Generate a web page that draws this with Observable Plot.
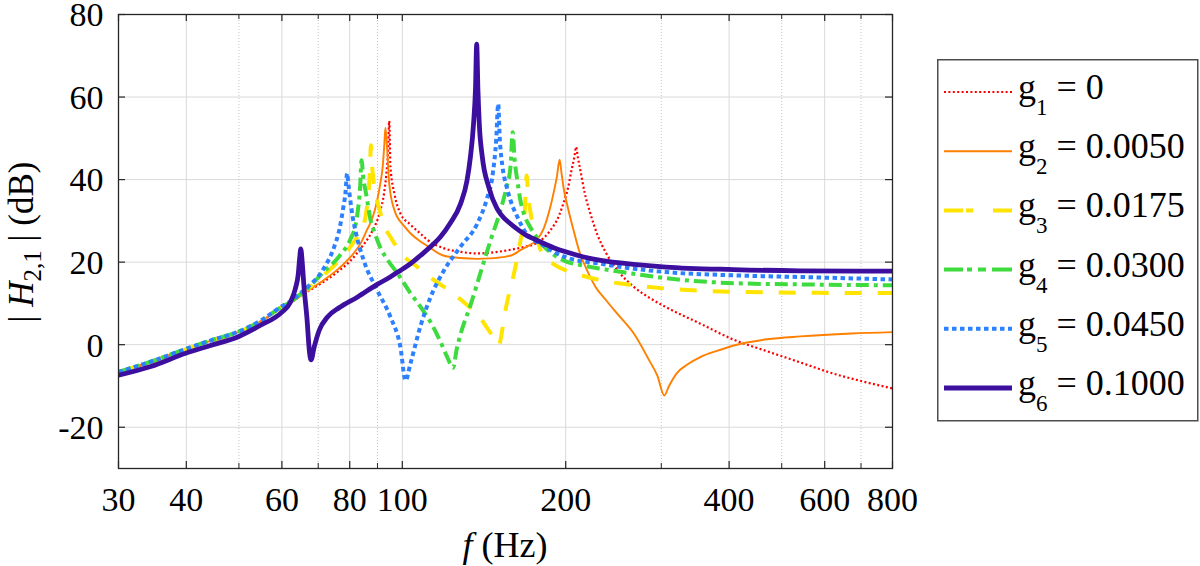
<!DOCTYPE html>
<html><head><meta charset="utf-8">
<script src="https://cdn.jsdelivr.net/npm/d3@7"></script>
<script src="https://cdn.jsdelivr.net/npm/@observablehq/plot@0.6"></script>
<style>
html,body{margin:0;padding:0;background:#fff;}
#wrap{position:relative;width:1200px;height:566px;overflow:hidden;font-family:'Liberation Serif',serif;}
#wrap svg, #wrap svg text{font-family:'Liberation Serif',serif !important;}
#legend{position:absolute;left:937px;top:59px;}
</style></head><body>
<div id="wrap"><div id="chart"></div><svg id="legend" width="262" height="363"></svg></div>
<script>
// ---- data: [frequency (Hz), |H2,1| (dB)] ----
const g1 = [[30,-6.7],[34.4,-4.2],[40,-1.1],[44.3,0.9],[50,3.1],[54.8,5.6],[60,9.0],[62.2,10.1],[64,11.2],[66.7,12.8],[71.6,15.2],[76.6,18.0],[80.2,20.3],[84,23.5],[88,27.5],[91.1,32.5],[92.5,36.5],[93.4,41],[94.1,46.5],[94.6,54.2],[95.1,43],[96.7,36.6],[99.2,31.8],[103.5,29.1],[108,26.9],[111,25.5],[119,23.4],[128,22.5],[137.4,22.1],[148,22.4],[158.2,23.0],[168,23.7],[176.7,24.6],[187.4,27.7],[194,31],[198,34.2],[202,38],[205,42.3],[207.5,45.5],[209,47.9],[210.5,45.5],[212.8,42.3],[217,36.5],[222,31.8],[229,26.5],[237.6,22.1],[250,17.8],[267,14.0],[285,11.4],[306,9.1],[354,5.1],[408,1.2],[470,-1.6],[541,-4.3],[622,-7.0],[700,-8.8],[800,-10.6]];
const g2 = [[30,-6.7],[34.4,-4.2],[40,-1.1],[44.3,0.9],[50,3.1],[54.8,5.6],[60,9.0],[62.2,10.1],[64,11.2],[66.7,12.9],[71.6,15.6],[76.6,18.6],[80.2,21.2],[84,24.8],[86,27.7],[88,30.5],[89.9,35],[91.2,39.5],[92,43],[92.6,48],[93.1,52.6],[93.8,47.1],[94.6,39.0],[96.7,32.6],[101,28.6],[103.5,27.0],[108,25.0],[111,24.0],[119,21.6],[128,21.0],[137.4,20.8],[145,20.9],[153,21.2],[160,21.8],[165,22.9],[170,23.8],[176.7,25.3],[182,28],[187.4,33.4],[190.5,37.5],[192.6,40.6],[194.9,44.8],[196.5,41.5],[198.1,38.2],[202,33],[206.8,27.7],[212,22.5],[219,18.0],[227,14],[237.6,10.7],[250,7.2],[267,2.7],[285,-3.8],[295,-7.5],[303.9,-12.3],[310,-10],[320,-7.0],[335,-4.8],[354,-3.0],[380,-1.5],[408,-0.2],[470,1.3],[541,2.0],[672,2.7],[800,3.05]];
const g3 = [[30,-6.7],[34.4,-4.2],[40,-1.1],[44.3,0.9],[50,3.1],[54.8,5.6],[60,9.1],[62.2,10.2],[64,11.4],[66.7,13.3],[71.6,16.8],[76.6,20.5],[80.2,23.7],[83,26.5],[84.9,29],[86,33],[86.8,38],[87.2,43],[87.5,48.3],[88,43],[88.5,39.8],[89.5,36],[90.5,33.4],[92.5,29],[95.1,26.1],[100,21.8],[105.5,19.3],[110,17.3],[117.5,14.6],[122.6,13.0],[131.6,9.6],[137.4,7.5],[142.9,4.3],[146.8,2.0],[150.5,-0.2],[153,4],[155,8.5],[160.3,16.8],[165,25],[168.2,32.6],[169.5,41],[170.5,36.5],[172,32.6],[176.7,26.1],[181,22.1],[190,19.5],[200,18.0],[215,16.7],[232,15.6],[260,14.6],[306,13.6],[408,12.8],[541,12.6],[800,12.5]];
const g4 = [[30,-6.6],[34.4,-4.1],[40,-1.0],[44.3,1.0],[50,3.2],[54.8,5.7],[60,9.2],[62.2,10.3],[64,11.6],[66.7,13.5],[71.6,17.6],[76.6,21.5],[80.2,25.5],[82,29],[82.9,33],[83.6,38],[84.1,44.7],[84.8,40],[85.5,37.5],[86.4,34],[87.3,30.5],[89,27],[91.1,23.5],[94,20.5],[98.3,17.0],[103.5,12.5],[108,9.2],[112.7,5.5],[117.5,0.8],[121,-3],[124,-5.6],[126,-1.0],[128,2.5],[133.5,9.5],[140.5,19],[146,26],[151.6,32.5],[155.5,38],[158.2,43],[159.7,51.5],[161,45],[163,39.5],[165,35],[167.4,31.8],[172,28.5],[176.7,26.1],[181,24.3],[190,21.8],[200,20.2],[215,19.2],[232,18.4],[260,17.4],[306,16.1],[408,14.9],[541,14.6],[800,14.4]];
const g5 = [[30,-6.6],[34.4,-4.1],[40,-1.0],[44.3,1.0],[50,3.2],[54.8,5.8],[60,9.3],[62.2,10.5],[64,11.8],[66.7,13.8],[71.6,18.4],[74.9,23.7],[76.6,28],[77.8,33],[78.6,37],[79.1,41.5],[79.6,38.5],[80.2,35.0],[81,31],[82,27.5],[84.9,20.4],[89.9,13.2],[95.1,6.7],[99.2,-0.6],[101.4,-8.7],[103.5,-4.6],[108,4.5],[112.7,11.5],[119.1,17.8],[127.9,23.7],[137.4,29.3],[142.9,35.0],[146.8,41.5],[148.9,49.5],[150.2,58.3],[151.2,50],[153,43],[155.5,38.5],[158.2,35],[163,30.9],[169.3,26.9],[175,25.3],[181,24.2],[190,22.5],[200,21.2],[232,19.6],[260,18.6],[306,17.6],[408,16.8],[541,16.4],[800,15.8]];
const g6 = [[30,-7.4],[34.4,-5.3],[40,-2.0],[44.3,-0.2],[50,2.0],[54.8,4.7],[60,7.9],[62.2,10.3],[63.5,13.5],[64.3,17],[64.7,21],[65.0,23.2],[65.4,20],[65.9,14],[66.7,6.7],[67.5,-2.2],[67.9,-3.7],[68.8,-0.6],[70.3,3.5],[72.8,6.7],[76.6,9.0],[82.6,11.5],[89.9,14.6],[95,16.4],[99.2,18.0],[103.5,19.6],[108,21.6],[112.7,23.7],[117.5,26.1],[122.6,29.5],[127.9,34.0],[131.6,39.8],[133.5,45.5],[135.3,53.6],[136.4,62],[137.1,72.8],[137.8,62],[138.6,53.6],[140.4,45.5],[144.3,38.2],[149.4,33.0],[152,31.5],[158.2,29.3],[164,27.7],[169.3,26.5],[175,25.6],[181,24.7],[190,23.5],[200,22.5],[215,21.3],[232,20.4],[270,19.4],[306,18.8],[408,18.2],[541,17.9],[800,17.8]];

const seriesSub = ["1","2","3","4","5","6"];
const seriesValue = ["0","0.0050","0.0175","0.0300","0.0450","0.1000"];
const xMajorTicks = [30,40,60,80,100,200,400,600,800];
const xMinorTicks = [50,70,90,300,500,700];
const yTicks = [-20,0,20,40,60,80];

// ---- styles ----
const seriesColor = ["#ff0000","#ff7f00","#ffe400","#3edb3e","#2d80ff","#3c0f9e"];
const seriesWidth = [2.2,1.9,4,4,4,4.8];
const seriesDash = ["2,2.4",null,"17,16","13,5,4,5","4.5,3.5",null];
const legendDash = ["2,2.4",null,"19,3,7,20,19","19,4,5,6,8,6,20","4.5,3.5",null];

const allSeries = [g1,g2,g3,g4,g5,g6];
const rows = [];
allSeries.forEach((arr,i)=>arr.forEach(([f,db])=>rows.push({f,db,s:i})));

const W=1200,H=566,mL=118,mR=308,mT=14,mB=98;
const iW=W-mL-mR, iH=H-mT-mB;
const FONT = "Liberation Serif";
const frameColor = "#262626";

const lineMarks = allSeries.map((_,i)=>Plot.line(rows.filter(r=>r.s===i),{
  x:"f", y:"db", stroke:seriesColor[i], strokeWidth:seriesWidth[i],
  strokeDasharray:seriesDash[i]||undefined, curve:"monotone-x", strokeLinecap:"butt", strokeLinejoin:"round"
}));

const plot = Plot.plot({
  width:W, height:H, marginLeft:mL, marginRight:mR, marginTop:mT, marginBottom:mB,
  style:{fontFamily:FONT, fontSize:"34px", color:"#000", background:"#fff", overflow:"visible"},
  x:{type:"log", domain:[30,800], axis:null},
  y:{domain:[-30,80], axis:null},
  marks:[
    Plot.gridY(yTicks,{stroke:"#d9d9d9", strokeOpacity:1, strokeWidth:1}),
    Plot.gridX(xMajorTicks,{stroke:"#d9d9d9", strokeOpacity:1, strokeWidth:1}),
    Plot.gridX(xMinorTicks,{stroke:"#c4c4c4", strokeOpacity:1, strokeWidth:1, strokeDasharray:"1,2"}),
    ...lineMarks,
    Plot.ruleX(xMajorTicks,{x:d=>d, insetTop:iH-7, stroke:frameColor, strokeWidth:1.2}),
    Plot.ruleX(xMajorTicks,{x:d=>d, insetBottom:iH-7, stroke:frameColor, strokeWidth:1.2}),
    Plot.ruleX(xMinorTicks,{x:d=>d, insetTop:iH-5, stroke:frameColor, strokeWidth:1}),
    Plot.ruleX(xMinorTicks,{x:d=>d, insetBottom:iH-5, stroke:frameColor, strokeWidth:1}),
    Plot.ruleY(yTicks,{y:d=>d, insetRight:iW-7, stroke:frameColor, strokeWidth:1.2}),
    Plot.ruleY(yTicks,{y:d=>d, insetLeft:iW-7, stroke:frameColor, strokeWidth:1.2}),
    Plot.frame({stroke:frameColor, strokeWidth:1.3}),
    Plot.text(xMajorTicks,{x:d=>d, text:d=>String(d), frameAnchor:"bottom", lineAnchor:"top", dy:18, fontSize:34, fontFamily:FONT, fill:"#000"}),
    Plot.text(yTicks,{y:d=>d, text:d=>String(d), frameAnchor:"left", textAnchor:"end", dx:-15, dy:1, fontSize:34, fontFamily:FONT, fill:"#000"})
  ]
});
document.getElementById("chart").appendChild(plot);

const svg = d3.select(plot);
// y-axis title
const yl = svg.append("text").attr("transform","translate(33,242) rotate(-90)")
  .attr("text-anchor","middle").attr("font-family",FONT).attr("font-size",35).attr("fill","#000");
yl.append("tspan").text("| ");
yl.append("tspan").attr("font-style","italic").text("H");
yl.append("tspan").attr("font-size",25).attr("dy",8).text("2,1");
yl.append("tspan").attr("dy",-8).text(" | (dB)");
// x-axis title
const xl = svg.append("text").attr("x",505).attr("y",557)
  .attr("text-anchor","middle").attr("font-family",FONT).attr("font-size",36).attr("fill","#000");
xl.append("tspan").attr("font-style","italic").text("f");
xl.append("tspan").text(" (Hz)");

// legend
const lg = d3.select("#legend");
lg.append("rect").attr("x",0.75).attr("y",0.75).attr("width",260).attr("height",361)
  .attr("fill","#fff").attr("stroke","#4d4d4d").attr("stroke-width",1.5);
seriesSub.forEach((sub,i)=>{
  const cy = 33 + i*59.2;
  const ln = lg.append("line").attr("x1",7).attr("x2",75).attr("y1",cy).attr("y2",cy)
    .attr("stroke",seriesColor[i]).attr("stroke-width",seriesWidth[i]);
  if (legendDash[i]) ln.attr("stroke-dasharray", legendDash[i]);
  const t = lg.append("text").attr("x",81).attr("y",cy+7)
    .attr("font-family",FONT).attr("font-size",36).attr("fill","#000");
  t.append("tspan").text("g");
  t.append("tspan").attr("font-size",23).attr("dy",16).text(sub);
  t.append("tspan").attr("dy",-16).text(" = " + seriesValue[i]);
});
</script>
</body></html>
